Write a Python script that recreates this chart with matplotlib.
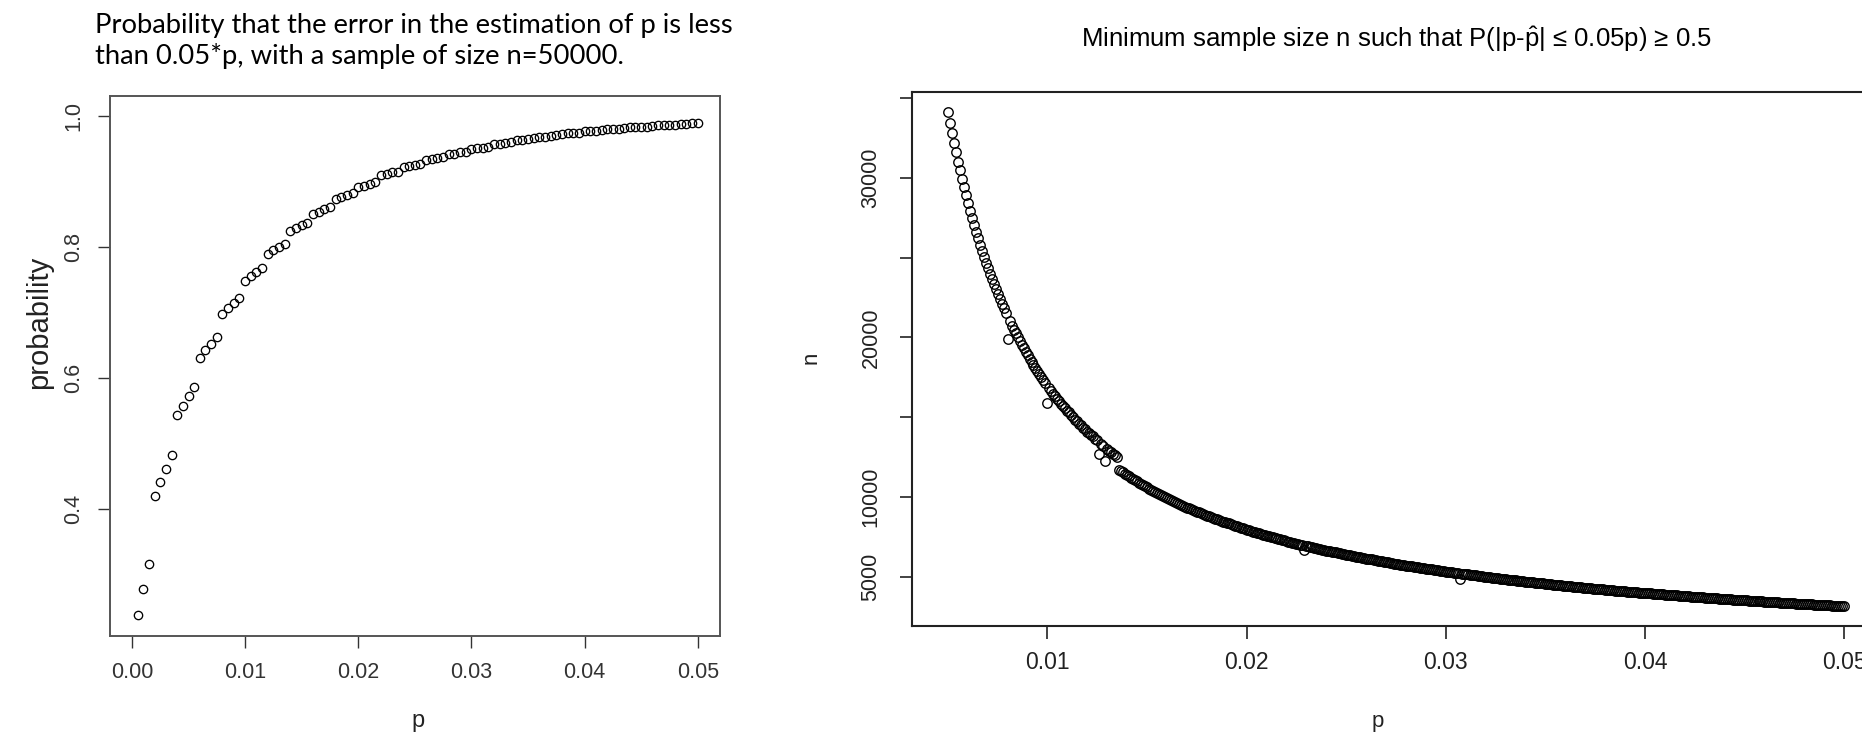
import matplotlib
matplotlib.use("Agg")
import matplotlib.pyplot as plt
import numpy as np

# datos panel izquierdo: probabilidad vs p (n = 50000)
p_izq = np.round(np.arange(1, 101) * 0.0005, 4)
prob = [0.237, 0.277, 0.315,
        0.419, 0.440, 0.461, 0.482,
        0.543, 0.557, 0.572, 0.586,
        0.631, 0.642, 0.652, 0.663,
        0.697, 0.706, 0.714, 0.722,
        0.748, 0.756, 0.762, 0.768,
        0.790, 0.796, 0.800, 0.805,
        0.824, 0.829, 0.833, 0.837,
        0.850, 0.854, 0.858, 0.861,
        0.873, 0.876, 0.879, 0.883,
        0.892, 0.894, 0.896, 0.900,
        0.910, 0.912, 0.914, 0.915,
        0.922, 0.924, 0.926, 0.927, 0.933, 0.934, 0.936, 0.937,
        0.942, 0.943, 0.945, 0.946, 0.950, 0.951, 0.952, 0.953,
        0.957, 0.958, 0.959, 0.960, 0.963, 0.964, 0.965, 0.966,
        0.968, 0.969, 0.970, 0.971, 0.973, 0.974, 0.974, 0.975,
        0.977, 0.977, 0.978, 0.979, 0.980, 0.981, 0.981, 0.982,
        0.983, 0.983, 0.984, 0.984, 0.985, 0.986, 0.986, 0.987,
        0.987, 0.988, 0.988, 0.989, 0.989]

# datos panel derecho: n minimo vs p
p_der = np.round(np.arange(50, 501) * 0.0001, 4)
n_min = [34129, 33456, 32809, 32187, 31588, 31010, 30453, 29916, 29398, 28896,
         28412, 27943, 27490, 27051, 26625, 26213, 25813, 25426, 25049, 24684,
         24329, 23983, 23648, 23322, 23004, 22695, 22394, 22101, 21816, 21537,
         19900, 21001, 20743, 20491, 20245, 20005, 19770, 19541, 19317, 19098,
         18884, 18675, 18470, 18269, 18073, 17881, 17693, 17509, 17329, 17152,
         15900, 16809, 16642, 16479, 16319, 16162, 16008, 15857, 15708, 15562,
         15380, 15300, 15120, 15040, 14850, 14760, 14590, 14510, 14340, 14260,
         14090, 14030, 13860, 13800, 13630, 13570, 12680, 13350, 13200, 12270,
         13040, 12890, 12850, 12700, 12650, 12532, 11713, 11627, 11541, 11457,
         11374, 11292, 11212, 11132, 11054, 10977, 10900, 10825, 10751, 10677,
         10605, 10534, 10463, 10394, 10325, 10258, 10191, 10125, 10060, 9996,
         9932, 9870, 9808, 9747, 9686, 9626, 9567, 9509, 9452, 9395,
         9339, 9312, 9257, 9202, 9148, 9095, 9043, 8991, 8939, 8888,
         8838, 8788, 8739, 8690, 8642, 8595, 8548, 8501, 8455, 8409,
         8364, 8345, 8301, 8257, 8214, 8171, 8128, 8086, 8045, 8003,
         7963, 7922, 7882, 7842, 7803, 7764, 7726, 7688, 7650, 7613,
         7576, 7562, 7526, 7490, 7454, 7418, 7383, 7349, 7314, 7280,
         7246, 7213, 7179, 7146, 7114, 7081, 7049, 7018, 6986, 6700,
         6924, 6914, 6884, 6854, 6824, 6794, 6765, 6735, 6706, 6677,
         6649, 6641, 6613, 6585, 6557, 6530, 6503, 6476, 6449, 6422,
         6396, 6370, 6344, 6318, 6293, 6267, 6242, 6217, 6193, 6168,
         6144, 6138, 6114, 6090, 6067, 6043, 6020, 5997, 5973, 5951,
         5928, 5906, 5883, 5861, 5839, 5817, 5796, 5774, 5753, 5731,
         5710, 5707, 5686, 5665, 5645, 5625, 5604, 5584, 5564, 5544,
         5525, 5505, 5486, 5466, 5447, 5428, 5409, 5391, 5372, 5353,
         5335, 5317, 5299, 5280, 5263, 5245, 5227, 4870, 5192, 5175,
         5158, 5156, 5139, 5122, 5105, 5088, 5072, 5055, 5039, 5023,
         5006, 4990, 4974, 4958, 4943, 4927, 4911, 4896, 4880, 4865,
         4850, 4834, 4819, 4804, 4790, 4775, 4760, 4746, 4731, 4717,
         4702, 4702, 4688, 4674, 4660, 4646, 4632, 4618, 4604, 4590,
         4577, 4563, 4550, 4537, 4523, 4510, 4497, 4484, 4471, 4458,
         4445, 4432, 4420, 4407, 4395, 4382, 4369, 4357, 4345, 4333,
         4320, 4308, 4296, 4284, 4273, 4261, 4249, 4237, 4226, 4214,
         4202, 4191, 4180, 4168, 4157, 4146, 4135, 4123, 4112, 4101,
         4090, 4079, 4069, 4058, 4047, 4036, 4026, 4015, 4005, 3994,
         3984, 3983, 3975, 3965, 3955, 3945, 3935, 3924, 3914, 3904,
         3894, 3885, 3875, 3865, 3855, 3845, 3836, 3826, 3817, 3807,
         3798, 3788, 3779, 3770, 3760, 3751, 3742, 3733, 3724, 3715,
         3706, 3697, 3688, 3679, 3670, 3661, 3652, 3644, 3635, 3626,
         3618, 3609, 3600, 3592, 3584, 3575, 3567, 3558, 3550, 3542,
         3533, 3525, 3517, 3509, 3501, 3493, 3485, 3477, 3469, 3461,
         3453, 3445, 3437, 3430, 3422, 3414, 3406, 3399, 3391, 3384,
         3376, 3368, 3361, 3354, 3346, 3339, 3331, 3324, 3317, 3310,
         3302, 3295, 3288, 3281, 3274, 3267, 3259, 3252, 3245, 3238,
         3231, 3225, 3218, 3211, 3204, 3197, 3190, 3184, 3177, 3170,
         3164]

xt_izq = [0.00, 0.01, 0.02, 0.03, 0.04, 0.05]
yt_izq = [0.4, 0.6, 0.8, 1.0]
xt_der = [0.01, 0.02, 0.03, 0.04, 0.05]
yt_der = [5000, 10000, 15000, 20000, 25000, 30000, 35000]
yl_der = ["5000", "10000", "", "20000", "", "30000", ""]

W, H = 1862, 734
plt.rcParams['font.family'] = ['Liberation Sans', 'DejaVu Sans']
plt.rcParams['mathtext.fontset'] = 'custom'
plt.rcParams['mathtext.rm'] = 'Liberation Sans'
plt.rcParams['mathtext.it'] = 'Liberation Sans'

fig = plt.figure(figsize=(W / 100, H / 100), dpi=100)

def caja(x0, y0, x1, y1):
    # pixeles -> fraccion de figura
    return [x0 / W, 1 - y1 / H, (x1 - x0) / W, (y1 - y0) / H]

# ---- panel izquierdo
ax1 = fig.add_axes(caja(110, 96, 720, 636))
ax1.plot(p_izq, prob, linestyle='none', marker='o', markersize=6,
         mfc='none', mec='black', mew=0.95)
ax1.set_xlim(-0.00194, 0.05197)
ax1.set_ylim(0.205, 1.031)
ax1.set_xticks(xt_izq)
ax1.set_xticklabels(["%.2f" % v for v in xt_izq])
ax1.set_yticks(yt_izq)
ax1.set_yticklabels(["%.1f" % v for v in yt_izq], rotation=90, va='center')
ax1.tick_params(direction='out', length=8.5, width=1, color='#333333',
                labelsize=15.5, labelcolor='#333333', pad=10)
for s in ax1.spines.values():
    s.set_color('#555555')
    s.set_linewidth(1.4)
fig.text(39 / W, 1 - 322 / H, "probability", rotation=90, ha='center',
         va='center', fontsize=21, color='#222222')
fig.text(418 / W, 1 - 721 / H, "p", ha='center', va='center', fontsize=17,
         color='#222222')
fig.text(95 / W, 1 - 13 / H,
         "Probability that the error in the estimation of p is less\n"
         "than 0.05*p, with a sample of size n=50000.",
         ha='left', va='top', fontsize=19.7, family=['Lato', 'DejaVu Sans'],
         linespacing=1.22, color='black')

# ---- panel derecho (se sale por la derecha como en la captura)
ax2 = fig.add_axes(caja(912, 92, 1880, 626))
ax2.plot(p_der, n_min, linestyle='none', marker='o', markersize=6.8,
         mfc='none', mec='black', mew=1.0)
ax2.set_xlim(0.0032, 0.0518)
ax2.set_ylim(1925, 35368)
ax2.set_xticks(xt_der)
ax2.set_xticklabels(["%.2f" % v for v in xt_der])
ax2.set_yticks(yt_der)
ax2.set_yticklabels(yl_der, rotation=90, va='center')
ax2.tick_params(direction='out', length=9, width=1.2, color='#222222',
                labelsize=15.5, labelcolor='#222222')
ax2.tick_params(axis='x', labelsize=16.5, pad=9)
ax2.tick_params(axis='y', pad=13)
for s in ax2.spines.values():
    s.set_color('#222222')
    s.set_linewidth(1.5)
fig.text(811 / W, 1 - 358 / H, "n", rotation=90, ha='center', va='center',
         fontsize=16, color='#222222')
fig.text(1378 / W, 1 - 721 / H, "p", ha='center', va='center', fontsize=16,
         color='#222222')
fig.text(1396 / W, 1 - 39 / H,
         "Minimum sample size n such that P(|p-$\\hat{\\mathrm{p}}$| \u2264 0.05p) \u2265 0.5",
         ha='center', va='center', fontsize=18.5, color='black')

fig.savefig("out.png", dpi=100)
